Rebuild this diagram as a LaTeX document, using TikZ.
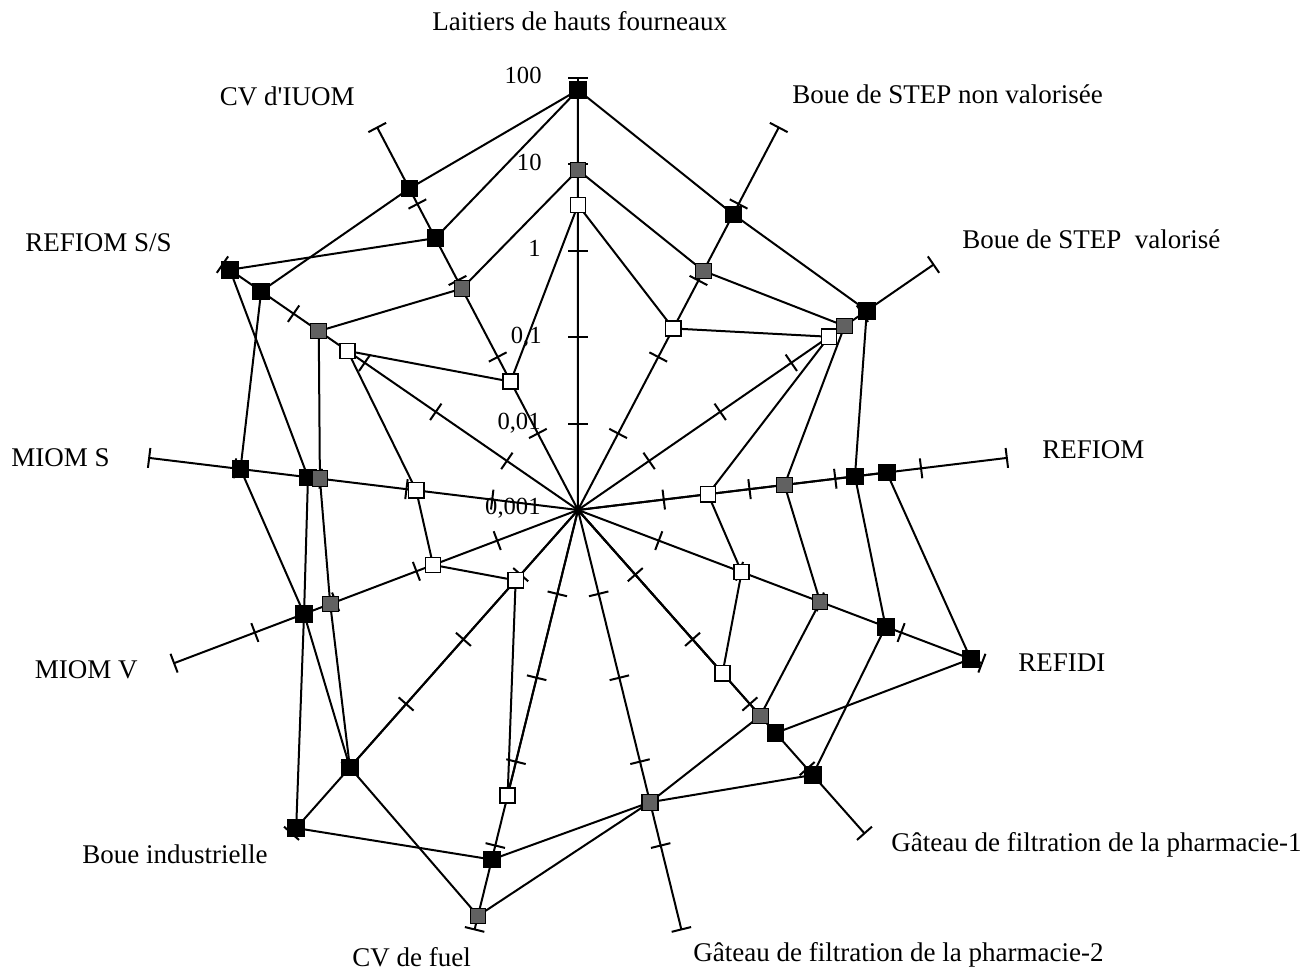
\documentclass[tikz,border=0pt]{standalone}
\usepackage{fontspec}
\setmainfont{Liberation Serif}[Ligatures=TeXOff]
\begin{document}
\begin{tikzpicture}[x=0.5pt,y=0.5pt,
  axisline/.style={line width=1pt},
  serie/.style={line width=1pt, line join=miter},
  mkblack/.style={rectangle, draw=black, fill=black, line width=0.4pt, minimum size=8.3pt, inner sep=0pt},
  mkgray/.style={rectangle, draw=black, fill=black!62, line width=0.5pt, minimum size=7.8pt, inner sep=0pt},
  mkwhite/.style={rectangle, draw=black, fill=white, line width=0.75pt, minimum size=7.6pt, inner sep=0pt},
  lab/.style={font=\fontsize{13.5}{16}\selectfont, inner sep=0pt},
  scl/.style={font=\fontsize{12.3}{14}\selectfont, inner sep=0pt, anchor=base east}]
\useasboundingbox (-578,-463) rectangle (725,510);
\coordinate (O) at (0,0);
% axes with ticks
\foreach \k in {0,...,12}{
  \pgfmathsetmacro\ang{90-\k*360/13}
  \coordinate (E\k) at (\ang:432);
  \draw[axisline] (O) -- (E\k);
  \foreach \i in {1,2,3,4,5}{
    \draw[axisline, rotate=\ang] (\i*86.4,-10) -- (\i*86.4,10);
  }
}
% series definitions (radius in px, 86.4 px per decade)
\newcommand\mkseries[2]{%
  \foreach \r [count=\k from 0] in {#2} {\coordinate (#1\k) at ({90-\k*360/13}:\r);}}
\newcommand\mkmarks[3]{%
  \foreach \r [count=\k from 0] in {#3} {\ifnum\r>0 \node[#2] (m#1\k) at (#1\k) {};\fi}}
\mkseries{A}{420,0,0,311,420,298,0,0,344,293,340,385,363}
\mkseries{B}{420,334,351,279,329,354,301,360,425,293,272,423,307}
\mkseries{G}{340,270,324,208,259,275,301,418,344,265,260,315,250}
\mkseries{W}{305,205,305,131,175,218,0,294,94,155,163,280,145}
% polygons
\foreach \s in {A,B,G,W}{
  \draw[serie] (\s0) \foreach \k in {1,...,12}{ -- (\s\k) } -- cycle;
}
\fill (O) circle (3.5);
% markers
\mkmarks{B}{mkblack}{420,334,351,279,329,354,301,360,425,293,272,423,307}
\mkmarks{G}{mkgray}{340,270,324,208,259,275,301,418,344,265,260,315,250}
\mkmarks{A}{mkblack}{420,0,0,311,420,298,0,0,344,293,340,385,363}
\mkmarks{W}{mkwhite}{305,205,305,131,175,218,0,294,94,155,163,280,145}
% scale labels
\node[scl] (s100) at (-36,426) {100};
\node[scl] (s10) at (-36,339.6) {10};
\node[scl] (s1) at (-37,253.2) {1};
\node[scl] (s01) at (-36,166.8) {0,1};
\node[scl] (s001) at (-37,80.4) {0,01};
\node[scl] (s0001) at (-37,-5) {0,001};
% category labels
\node[lab, anchor=base west] (l0) at (-146,479) {Laitiers de hauts fourneaux};
\node[lab, anchor=base west] (l1) at (214,406) {Boue de STEP non valorisée};
\node[lab, anchor=base west] (l2) at (384,261) {Boue de STEP~ valorisé};
\node[lab, anchor=base west] (l3) at (464,51) {REFIOM};
\node[lab, anchor=base west] (l4) at (440,-162) {REFIDI};
\node[lab, anchor=base west] (l5) at (313,-342) {Gâteau de filtration de la pharmacie-1};
\node[lab, anchor=base west] (l6) at (115,-452) {Gâteau de filtration de la pharmacie-2};
\node[lab, anchor=base west] (l7) at (-226,-457) {CV de fuel};
\node[lab, anchor=base east] (l8) at (-310,-354) {Boue industrielle};
\node[lab, anchor=base east] (l9) at (-440,-169) {MIOM V};
\node[lab, anchor=base east] (l10) at (-468,43) {MIOM S};
\node[lab, anchor=base east] (l11) at (-406,258) {REFIOM S/S};
\node[lab, anchor=base east] (l12) at (-223,404) {CV d'IUOM};
\end{tikzpicture}
\end{document}
